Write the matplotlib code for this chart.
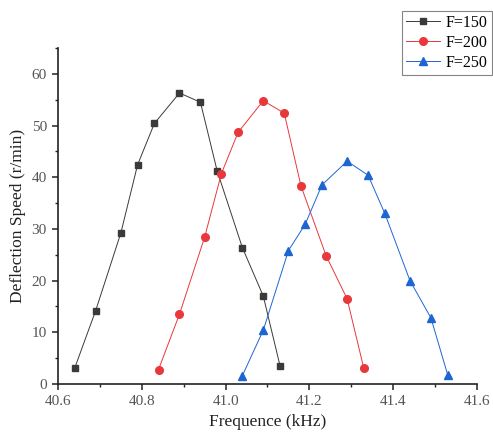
import numpy as np
import matplotlib
matplotlib.use("Agg")
import matplotlib.pyplot as plt
from matplotlib.ticker import MultipleLocator

# data
f150_x = [40.64, 40.69, 40.75, 40.79, 40.83, 40.89, 40.94, 40.98, 41.04, 41.09, 41.13]
f150_y = [3.1, 14.2, 29.2, 42.4, 50.4, 56.3, 54.5, 41.2, 26.4, 17.0, 3.5]

f200_x = [40.84, 40.89, 40.95, 40.99, 41.03, 41.09, 41.14, 41.18, 41.24, 41.29, 41.33]
f200_y = [2.8, 13.5, 28.4, 40.7, 48.7, 54.8, 52.4, 38.3, 24.8, 16.5, 3.0]

f250_x = [41.04, 41.09, 41.15, 41.19, 41.23, 41.29, 41.34, 41.38, 41.44, 41.49, 41.53]
f250_y = [1.6, 10.4, 25.8, 30.9, 38.5, 43.1, 40.4, 33.0, 20.0, 12.8, 1.8]

plt.rcParams['font.family'] = ['Liberation Serif', 'DejaVu Serif']

fig = plt.figure(figsize=(4.93, 4.36), dpi=100)
ax = fig.add_axes([0.1176, 0.1193, 0.8499, 0.7706])

ax.plot(f150_x, f150_y, color="#3a3a3a", linewidth=0.7, marker="s", markersize=4.8,
        markerfacecolor="#3a3a3a", markeredgecolor="#3a3a3a", label="F=150")
ax.plot(f200_x, f200_y, color="#e8383c", linewidth=0.7, marker="o", markersize=5.5,
        markerfacecolor="#e8383c", markeredgecolor="#e8383c", label="F=200")
ax.plot(f250_x, f250_y, color="#1d66d2", linewidth=0.7, marker="^", markersize=6,
        markerfacecolor="#1d66d2", markeredgecolor="#1d66d2", label="F=250")

ax.set_xlim(40.6, 41.6)
ax.set_ylim(0, 65)
ax.xaxis.set_major_locator(MultipleLocator(0.2))
ax.xaxis.set_minor_locator(MultipleLocator(0.1))
ax.yaxis.set_major_locator(MultipleLocator(10))
ax.yaxis.set_minor_locator(MultipleLocator(5))
ax.xaxis.set_major_formatter(plt.FuncFormatter(lambda v, p: "%.1f" % v))

ax.spines['top'].set_visible(False)
ax.spines['right'].set_visible(False)
for s in ['left', 'bottom']:
    ax.spines[s].set_linewidth(1.2)
    ax.spines[s].set_color("#222222")
ax.tick_params(which="major", direction="out", length=4.5, width=1.1, colors="#222222",
               labelsize=11, labelcolor="#555555")
ax.tick_params(which="minor", direction="out", length=2.5, width=1.0, colors="#222222")

ax.set_xlabel("Frequence (kHz)", fontsize=12.5, color="#222222")
ax.set_ylabel("Deflection Speed (r/min)", fontsize=12.5, color="#222222")

leg = ax.legend(loc="upper left", bbox_to_anchor=(402 / 493, 1 - 11 / 436),
                bbox_transform=fig.transFigure, fontsize=11.5, frameon=True,
                fancybox=False, borderpad=0.25, labelspacing=0.25, handlelength=2.1,
                handletextpad=0.4, borderaxespad=0)
leg.get_frame().set_edgecolor("#666666")
leg.get_frame().set_linewidth(0.8)

plt.savefig("out.png", dpi=100)
